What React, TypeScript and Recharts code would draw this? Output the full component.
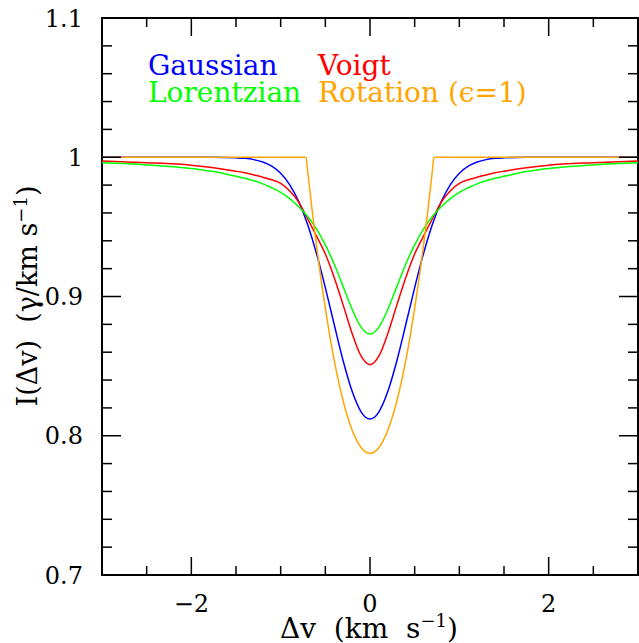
import React from 'react'
import { LineChart, Line, XAxis, YAxis, ReferenceArea, Legend } from 'recharts'

// velocity grid shared by the gaussian / voigt / lorentzian curves
const PROFILE_DV = [
  -3, -2.5, -2, -1.75, -1.5, -1.4, -1.3, -1.2, -1.1, -1, -0.9, -0.8, -0.7, -0.6, -0.5, -0.4, -0.3, -0.2, -0.1,
  0, 0.1, 0.2, 0.3, 0.4, 0.5, 0.6, 0.7, 0.8, 0.9, 1, 1.1, 1.2, 1.3, 1.4, 1.5, 1.75, 2, 2.5, 3,
]

const GAUSSIAN = [
  1.0, 1.0, 1.0, 1.0, 0.9996, 0.9992, 0.9983, 0.9966, 0.9936, 0.9885, 0.9804, 0.9685, 0.9521, 0.9311, 0.9064,
  0.8797, 0.8537, 0.8319, 0.8172, 0.812, 0.8172, 0.8319, 0.8537, 0.8797, 0.9064, 0.9311, 0.9521, 0.9685, 0.9804,
  0.9885, 0.9936, 0.9966, 0.9983, 0.9992, 0.9996, 1.0, 1.0, 1.0, 1.0,
]

const VOIGT = [
  0.9973, 0.9961, 0.9943, 0.9925, 0.99, 0.9888, 0.9873, 0.9857, 0.9838, 0.9813, 0.976, 0.968, 0.956, 0.9435,
  0.9305, 0.9135, 0.8938, 0.8735, 0.8573, 0.851, 0.8573, 0.8735, 0.8938, 0.9135, 0.9305, 0.9435, 0.956, 0.968,
  0.976, 0.9813, 0.9838, 0.9857, 0.9873, 0.9888, 0.99, 0.9925, 0.9943, 0.9961, 0.9973,
]

const LORENTZIAN = [
  0.996, 0.9945, 0.9919, 0.9897, 0.9863, 0.9849, 0.9831, 0.9809, 0.9781, 0.9748, 0.9703, 0.9646, 0.9576, 0.9486,
  0.9371, 0.9232, 0.9071, 0.8908, 0.878, 0.873, 0.878, 0.8908, 0.9071, 0.9232, 0.9371, 0.9486, 0.9576, 0.9646,
  0.9703, 0.9748, 0.9781, 0.9809, 0.9831, 0.9849, 0.9863, 0.9897, 0.9919, 0.9945, 0.996,
]

// rotation profile has its own grid (sharp edges at +-0.715)
const ROTATION_DV = [
  -3, -2, -1, -0.715, -0.7, -0.65, -0.6, -0.55, -0.5, -0.45, -0.4, -0.35, -0.3, -0.25, -0.2, -0.15, -0.1, -0.05,
  0, 0.05, 0.1, 0.15, 0.2, 0.25, 0.3, 0.35, 0.4, 0.45, 0.5, 0.55, 0.6, 0.65, 0.7, 0.715, 1, 2, 3,
]

const ROTATION = [
  1.0, 1.0, 1.0, 1.0, 0.9912, 0.9631, 0.9371, 0.9132, 0.8914, 0.8716, 0.8539, 0.8383, 0.8248, 0.8134, 0.804,
  0.7968, 0.7916, 0.7884, 0.7874, 0.7884, 0.7916, 0.7968, 0.804, 0.8134, 0.8248, 0.8383, 0.8539, 0.8716, 0.8914,
  0.9132, 0.9371, 0.9631, 0.9912, 1.0, 1.0, 1.0, 1.0,
]

const X_TICKS = [-3, -2.5, -2, -1.5, -1, -0.5, 0, 0.5, 1, 1.5, 2, 2.5, 3]
const X_LABELS = [-2, 0, 2]
const Y_TICKS = [
  0.7, 0.72, 0.74, 0.76, 0.78, 0.8, 0.82, 0.84, 0.86, 0.88, 0.9, 0.92, 0.94, 0.96, 0.98, 1, 1.02, 1.04, 1.06,
  1.08, 1.1,
]

const SERIES = [
  { name: 'Gaussian', color: '#0000ff', xs: PROFILE_DV, ys: GAUSSIAN },
  { name: 'Voigt', color: '#ff0000', xs: PROFILE_DV, ys: VOIGT },
  { name: 'Lorentzian', color: '#00ff00', xs: PROFILE_DV, ys: LORENTZIAN },
  { name: 'Rotation (\u03f5=1)', color: '#ffa500', xs: ROTATION_DV, ys: ROTATION },
]

const W = 639
const H = 643
const PLOT_LEFT = 102
const PLOT_RIGHT = 638
const PLOT_TOP = 18
const PLOT_BOTTOM = 575
const FONT = 'DejaVu Serif'

function YTick({ y, payload }: any) {
  const v = payload.value as number
  const major = Math.abs(v * 10 - Math.round(v * 10)) < 1e-6
  const len = major ? 19 : 10
  return (
    <g>
      <line x1={PLOT_LEFT} x2={PLOT_LEFT + len} y1={y} y2={y} stroke="#000" strokeWidth={1.5} />
      <line x1={PLOT_RIGHT - len} x2={PLOT_RIGHT} y1={y} y2={y} stroke="#000" strokeWidth={1.5} />
      {major && (
        <text x={83} y={y} dy="0.36em" textAnchor="end" fontFamily={FONT} fontSize={24} fill="#000">
          {String(Math.round(v * 10) / 10)}
        </text>
      )}
    </g>
  )
}

function XTick({ x, payload }: any) {
  const v = payload.value as number
  const labelled = X_LABELS.includes(v)
  const len = labelled ? 18 : 9
  return (
    <g>
      <line x1={x} x2={x} y1={PLOT_BOTTOM} y2={PLOT_BOTTOM - len} stroke="#000" strokeWidth={1.5} />
      <line x1={x} x2={x} y1={PLOT_TOP} y2={PLOT_TOP + len} stroke="#000" strokeWidth={1.5} />
      {labelled && (
        <text x={x} y={612} textAnchor="middle" fontFamily={FONT} fontSize={24} fill="#000">
          {v < 0 ? `\u2212${Math.abs(v)}` : String(v)}
        </text>
      )}
    </g>
  )
}

function LegendBox({ payload }: any) {
  const items = SERIES.map((s) => (payload || []).find((p: any) => p.value === s.name) || { value: s.name, color: s.color })
  return (
    <svg width={W} height={110}>
      {items.map((p: any, i: number) => (
        <text
          key={p.value}
          x={i % 2 === 0 ? 148 : 318}
          y={i < 2 ? 75 : 102}
          fontFamily={FONT}
          fontSize={28}
          fill={p.color}
        >
          {p.value}
        </text>
      ))}
    </svg>
  )
}

export default function App() {
  return (
    <div style={{ position: 'absolute', left: 0, top: 0, width: W, height: H, background: '#fff' }}>
      <LineChart width={W} height={H} margin={{ top: PLOT_TOP, right: W - PLOT_RIGHT, bottom: 0, left: 0 }}>
        <XAxis
          type="number"
          dataKey="dv"
          domain={[-3, 3]}
          ticks={X_TICKS}
          interval={0}
          allowDataOverflow
          axisLine={false}
          tickLine={false}
          height={H - PLOT_BOTTOM}
          tick={<XTick />}
          label={{
            content: () => (
              <text
                x={369}
                y={638}
                textAnchor="middle"
                fontFamily={FONT}
                fontSize={28}
                fill="#000"
                style={{ whiteSpace: 'pre' }}
              >
                {'\u0394v  (km  s'}
                <tspan dy={-11} fontSize={18}>{'\u22121'}</tspan>
                <tspan dy={11}>)</tspan>
              </text>
            ),
          }}
        />
        <YAxis
          type="number"
          domain={[0.7, 1.1]}
          ticks={Y_TICKS}
          interval={0}
          allowDataOverflow
          axisLine={false}
          tickLine={false}
          width={PLOT_LEFT}
          tick={<YTick />}
          label={{
            content: () => (
              <text
                x={0}
                y={0}
                transform="translate(37 296) rotate(-90)"
                textAnchor="middle"
                fontFamily={FONT}
                fontSize={27}
                fill="#000"
                style={{ whiteSpace: 'pre' }}
              >
                {'I(\u0394v)  (\u03b3/km s'}
                <tspan dy={-10} fontSize={18}>{'\u22121'}</tspan>
                <tspan dy={10}>)</tspan>
              </text>
            ),
          }}
        />
        <ReferenceArea x1={-3} x2={3} y1={0.7} y2={1.1} fill="none" stroke="#000" strokeWidth={2} />
        {SERIES.map((s) => (
          <Line
            key={s.name}
            name={s.name}
            data={s.xs.map((dv, i) => ({ dv, v: s.ys[i] }))}
            dataKey="v"
            type="monotone"
            stroke={s.color}
            strokeWidth={1.5}
            dot={false}
            activeDot={false}
            isAnimationActive={false}
          />
        ))}
        <Legend
          content={<LegendBox />}
          layout="horizontal"
          align="center"
          verticalAlign="middle"
          wrapperStyle={{ left: 0, top: 0, width: W, height: 110 }}
        />
      </LineChart>
    </div>
  )
}
